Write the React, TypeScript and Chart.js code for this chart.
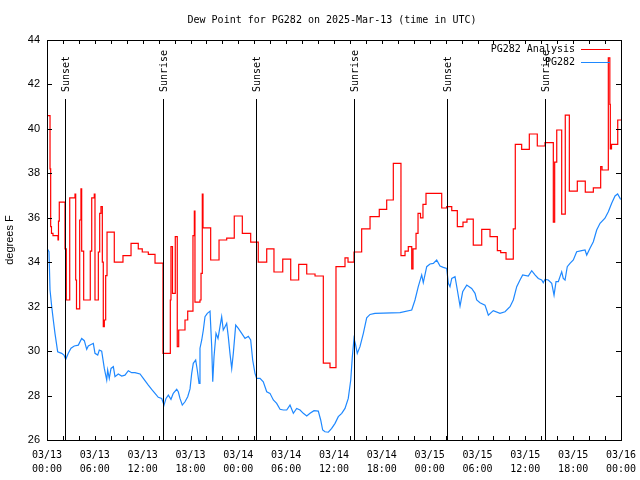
import React, { useEffect, useRef } from "react";
import { Chart, registerables } from "chart.js";

Chart.register(...registerables);

const TITLE = "Dew Point for PG282 on 2025-Mar-13 (time in UTC)";
const Y_LABEL = "degrees F";
const SERIES_NAMES = ["PG282 Analysis", "PG282"];
const SERIES_COLORS = ["#ff0000", "#1e88ff"];

// x axis: hours since 03/13 00:00 UTC
const X_MIN = 0;
const X_MAX = 72;
const X_TICK_DATES = ["03/13", "03/13", "03/13", "03/13", "03/14", "03/14", "03/14", "03/14", "03/15", "03/15", "03/15", "03/15", "03/16"];
const X_TICK_TIMES = ["00:00", "06:00", "12:00", "18:00", "00:00", "06:00", "12:00", "18:00", "00:00", "06:00", "12:00", "18:00", "00:00"];
const Y_MIN = 26;
const Y_MAX = 44;

// Sunrise / sunset markers (hours since 03/13 00:00)
const sunHours = [2.26, 14.55, 26.22, 38.51, 50.17, 62.47];
const sunLabels = ["Sunset", "Sunrise", "Sunset", "Sunrise", "Sunset", "Sunrise"];

// PG282 Analysis (stepped)
const analysisHours = [
  0.0, 0.38, 0.46, 0.56, 0.75, 1.38, 1.44, 1.54, 2.26, 2.42, 2.85, 3.51, 3.6, 3.7, 4.1, 4.26, 4.35, 4.6,
  5.43, 5.61, 5.93, 6.02, 6.44, 6.61, 6.77, 6.94, 7.06, 7.19, 7.36, 7.53, 8.44, 9.53, 10.54, 11.45, 11.95,
  12.71, 13.55, 14.55, 15.47, 15.55, 15.74, 16.09, 16.34, 16.52, 17.31, 17.65, 18.31, 18.48, 18.56, 19.19,
  19.32, 19.48, 19.57, 20.53, 21.58, 22.54, 23.49, 24.5, 25.55, 26.5, 27.56, 28.47, 29.57, 30.57, 31.57,
  32.58, 33.62, 34.66, 35.5, 36.25, 37.38, 37.76, 38.51, 39.47, 40.52, 41.68, 42.61, 43.44, 44.4, 44.91,
  45.32, 45.75, 45.91, 46.29, 46.54, 46.85, 47.16, 47.54, 49.51, 50.14, 50.77, 51.47, 52.18, 52.68, 53.47,
  54.53, 55.57, 56.49, 56.91, 57.58, 58.49, 58.74, 59.54, 60.5, 61.5, 62.47, 63.51, 63.68, 63.94, 64.56,
  65.01, 65.52, 66.52, 67.52, 68.53, 69.45, 69.62, 70.41, 70.6, 70.66, 70.81, 71.59, 72.0,
];
const analysisValues = [
  40.6, 38.2, 35.6, 35.3, 35.2, 35.0, 35.85, 36.7, 34.6, 32.3, 36.9, 37.07, 33.2, 31.9, 35.9, 37.3, 34.5, 32.3,
  34.5, 36.9, 37.06, 32.3, 34.46, 36.2, 36.5, 34.0, 31.1, 31.4, 33.4, 35.35, 34.0, 34.3, 34.85, 34.6, 34.46,
  34.35, 33.96, 29.9, 32.3, 34.7, 32.6, 35.15, 30.2, 30.95, 31.4, 31.8, 35.2, 36.3, 32.2, 32.3,
  33.5, 37.06, 35.55, 34.1, 35.0, 35.08, 36.08, 35.3, 34.9, 34.0, 34.6, 33.56, 34.14, 33.2, 33.9,
  33.47, 33.38, 29.46, 29.26, 33.8, 34.2, 34.0, 34.46, 35.5, 36.05, 36.38, 36.8, 38.45, 34.3, 34.5,
  34.7, 33.7, 34.6, 35.3, 36.2, 36.0, 36.6, 37.1, 36.44, 36.5, 36.32, 35.6, 35.8, 35.94, 34.77,
  35.48, 35.15, 34.52, 34.43, 34.14, 35.5, 39.3, 39.08, 39.77, 39.23, 39.38, 35.8, 38.5, 39.95, 36.16,
  40.62, 37.2, 37.65, 37.15, 37.35, 38.3, 38.15, 43.2, 41.1, 39.1, 39.3, 40.4, 40.4,
];

// PG282 observations
const obsHours = [
  0.0, 0.25, 0.38, 0.59, 0.79, 1.0, 1.34, 1.84, 2.13, 2.35, 2.67, 3.01, 3.42, 3.93, 4.35, 4.68, 4.98, 5.18,
  5.81, 6.02, 6.36, 6.56, 6.86, 7.19, 7.49, 7.61, 7.81, 8.03, 8.32, 8.53, 8.94, 9.37, 9.78, 10.2, 10.62,
  11.04, 11.67, 12.08, 12.71, 13.13, 13.55, 13.96, 14.39, 14.68, 14.93, 15.22, 15.55, 15.84, 16.27, 16.47,
  16.68, 16.97, 17.31, 17.65, 17.94, 18.15, 18.35, 18.65, 18.85, 19.07, 19.19, 19.41, 19.61, 19.82, 20.11,
  20.45, 20.66, 20.79, 20.95, 21.2, 21.45, 21.7, 21.91, 22.11, 22.33, 22.54, 22.74, 22.95, 23.17, 23.37,
  23.67, 24.0, 24.42, 24.84, 25.25, 25.55, 25.8, 26.09, 26.3, 26.72, 27.13, 27.56, 27.97, 28.39, 28.81,
  29.23, 29.64, 30.07, 30.48, 30.9, 31.32, 31.74, 32.15, 32.58, 32.99, 33.49, 34.03, 34.33, 34.58, 34.87,
  35.29, 35.71, 36.13, 36.54, 36.97, 37.38, 37.79, 38.1, 38.3, 38.51, 38.72, 38.92, 39.26, 39.68, 40.1,
  40.52, 41.14, 44.28, 45.75, 46.16, 46.57, 47.0, 47.2, 47.63, 48.04, 48.46, 48.88, 49.3, 49.71, 50.14,
  50.34, 50.55, 50.77, 51.18, 51.47, 51.81, 52.14, 52.65, 53.27, 53.69, 53.9, 54.31, 54.94, 55.15, 55.36,
  55.98, 56.82, 57.45, 58.08, 58.49, 58.92, 59.33, 59.67, 60.37, 60.8, 61.21, 61.63, 62.05, 62.25, 62.47,
  62.88, 63.31, 63.6, 63.85, 64.14, 64.35, 64.56, 64.76, 64.98, 65.26, 65.6, 66.02, 66.44, 67.07, 67.49,
  67.7, 68.11, 68.53, 68.95, 69.37, 69.99, 70.41, 70.83, 71.25, 71.58, 71.96,
];
const obsValues = [
  34.63, 34.47, 32.75, 32.0, 31.4, 30.8, 29.97, 29.9, 29.82, 29.63, 29.9, 30.13, 30.23, 30.27, 30.57, 30.47, 30.08, 30.23,
  30.35, 29.9, 29.82, 30.05, 30.0, 29.22, 28.7, 29.15, 28.77, 29.22, 29.3, 28.85, 28.97, 28.88, 28.92, 29.12, 29.03,
  29.03, 28.97, 28.77, 28.47, 28.28, 28.1, 27.92, 27.87, 27.57, 27.87, 28.02, 27.83, 28.1, 28.28, 28.17,
  27.87, 27.57, 27.72, 27.95, 28.3, 29.0, 29.45, 29.6, 29.15, 28.55, 30.13, 30.5, 30.95, 31.55, 31.7,
  31.8, 30.2, 28.62, 29.75, 30.8, 30.57, 31.1, 31.55, 30.95, 31.1, 31.25, 30.65, 29.9, 29.22, 29.9,
  31.17, 31.02, 30.8, 30.57, 30.67, 30.5, 29.6, 29.0, 28.77, 28.77, 28.62, 28.17, 28.1, 27.8, 27.65,
  27.38, 27.35, 27.35, 27.57, 27.2, 27.42, 27.35, 27.2, 27.08, 27.2, 27.32, 27.3, 26.9, 26.45, 26.37,
  26.35, 26.52, 26.75, 27.05, 27.2, 27.42, 27.87, 28.7, 29.75, 30.57, 30.27, 29.9, 30.2, 30.8, 31.5,
  31.65, 31.7, 31.73, 31.85, 32.3, 32.9, 33.43, 33.08, 33.8, 33.92, 33.95, 34.1, 33.83, 33.77, 33.72,
  33.05, 32.9, 33.27, 33.35, 32.75, 32.03, 32.67, 32.97, 32.82, 32.6, 32.3, 32.18, 32.07, 31.85, 31.62,
  31.82, 31.7, 31.77, 32.0, 32.3, 32.9, 33.2, 33.43, 33.38, 33.62, 33.43, 33.27, 33.2, 33.08, 33.23,
  33.2, 33.05, 32.52, 33.13, 33.13, 33.35, 33.57, 33.27, 33.2, 33.8, 33.95, 34.1, 34.47, 34.52, 34.55,
  34.32, 34.63, 34.92, 35.45, 35.75, 35.98, 36.27, 36.65, 36.98, 37.07, 36.83,
];

const MONO = "'DejaVu Sans Mono', monospace";
const SANS = "'Liberation Sans', Arial, sans-serif";

const decorPlugin = {
  id: "decor",
  afterDatasetsDraw(chart: any) {
    const { ctx, chartArea, scales } = chart;
    const { top, bottom } = chartArea;
    const xs = scales.x;
    ctx.save();
    ctx.strokeStyle = "#000";
    ctx.lineWidth = 1;
    ctx.fillStyle = "#000";
    ctx.font = "10px " + MONO;
    sunHours.forEach((h, i) => {
      const px = Math.round(xs.getPixelForValue(h)) + 0.5;
      ctx.beginPath();
      ctx.moveTo(px, top + 59);
      ctx.lineTo(px, bottom);
      ctx.stroke();
      ctx.save();
      ctx.translate(px + 1, top + 52);
      ctx.rotate(-Math.PI / 2);
      ctx.textAlign = "left";
      ctx.textBaseline = "middle";
      ctx.fillText(sunLabels[i], 0, 0);
      ctx.restore();
    });
    ctx.restore();
  },
  afterDraw(chart: any) {
    const { ctx, chartArea, scales } = chart;
    const { left, right, top, bottom } = chartArea;
    const xs = scales.x;
    const ys = scales.y;
    ctx.save();
    ctx.strokeStyle = "#000";
    ctx.lineWidth = 1;
    ctx.strokeRect(left + 0.5, top + 0.5, right - left, bottom - top);
    ctx.beginPath();
    for (let h = X_MIN; h <= X_MAX; h += 2) {
      const px = Math.round(xs.getPixelForValue(h)) + 0.5;
      ctx.moveTo(px, bottom);
      ctx.lineTo(px, bottom - 4);
      ctx.moveTo(px, top);
      ctx.lineTo(px, top + 4);
    }
    for (let v = Y_MIN; v <= Y_MAX; v += 2) {
      const py = Math.round(ys.getPixelForValue(v)) + 0.5;
      ctx.moveTo(left, py);
      ctx.lineTo(left + 5, py);
      ctx.moveTo(right, py);
      ctx.lineTo(right - 5, py);
    }
    ctx.stroke();

    ctx.fillStyle = "#000";
    ctx.font = "10px " + MONO;
    ctx.textAlign = "center";
    ctx.textBaseline = "middle";
    ctx.fillText(TITLE, (left + right) / 2 - 2, 20);

    ctx.save();
    ctx.translate(10, (top + bottom) / 2);
    ctx.rotate(-Math.PI / 2);
    ctx.font = "11px " + SANS;
    ctx.textAlign = "center";
    ctx.textBaseline = "middle";
    ctx.fillText(Y_LABEL, 0, 0);
    ctx.restore();

    ctx.font = "10px " + MONO;
    ctx.textAlign = "right";
    ctx.textBaseline = "middle";
    SERIES_NAMES.forEach((name, i) => {
      const y = top + 9.5 + i * 13;
      ctx.fillStyle = "#000";
      ctx.fillText(name, right - 46, y);
      ctx.strokeStyle = SERIES_COLORS[i];
      ctx.beginPath();
      ctx.moveTo(right - 40, y);
      ctx.lineTo(right - 11, y);
      ctx.stroke();
    });
    ctx.restore();
  },
};

export default function App() {
  const canvasRef = useRef<HTMLCanvasElement | null>(null);

  useEffect(() => {
    const canvas = canvasRef.current;
    if (!canvas) return;
    const chart = new Chart(canvas, {
      type: "line",
      data: {
        datasets: [
          {
            label: SERIES_NAMES[0],
            data: analysisHours.map((h, i) => ({ x: h, y: analysisValues[i] })),
            borderColor: SERIES_COLORS[0],
            borderWidth: 1.2,
            pointRadius: 0,
            stepped: true,
            fill: false,
          },
          {
            label: SERIES_NAMES[1],
            data: obsHours.map((h, i) => ({ x: h, y: obsValues[i] })),
            borderColor: SERIES_COLORS[1],
            borderWidth: 1.2,
            pointRadius: 0,
            tension: 0,
            fill: false,
          },
        ],
      },
      options: {
        animation: false,
        responsive: false,
        devicePixelRatio: 1,
        layout: { padding: { top: 40, right: 19, bottom: 0, left: 0 } },
        plugins: {
          legend: { display: false },
          title: { display: false },
          tooltip: { enabled: false },
        },
        scales: {
          x: {
            type: "linear",
            min: X_MIN,
            max: X_MAX,
            grid: { display: false, drawTicks: false },
            border: { display: false },
            ticks: {
              stepSize: 6,
              autoSkip: false,
              maxRotation: 0,
              minRotation: 0,
              padding: 8,
              color: "#000",
              font: { family: MONO, size: 10, lineHeight: 1.4 },
              callback: (value: any) => {
                const idx = Math.round(Number(value) / 6);
                return [X_TICK_DATES[idx], X_TICK_TIMES[idx]];
              },
            },
            afterFit: (scale: any) => {
              scale.height = 40;
              scale.paddingLeft = 0;
              scale.paddingRight = 0;
            },
          },
          y: {
            type: "linear",
            min: Y_MIN,
            max: Y_MAX,
            grid: { display: false, drawTicks: false },
            border: { display: false },
            ticks: {
              stepSize: 2,
              padding: 7,
              color: "#000",
              font: { family: SANS, size: 11 },
            },
            afterFit: (scale: any) => {
              scale.width = 47;
              scale.paddingTop = 0;
              scale.paddingBottom = 0;
            },
          },
        },
      },
      plugins: [decorPlugin],
    } as any);
    return () => chart.destroy();
  }, []);

  return (
    <div style={{ position: "fixed", left: 0, top: 0, width: 640, height: 480, background: "#fff" }}>
      <canvas ref={canvasRef} width={640} height={480} />
    </div>
  );
}
